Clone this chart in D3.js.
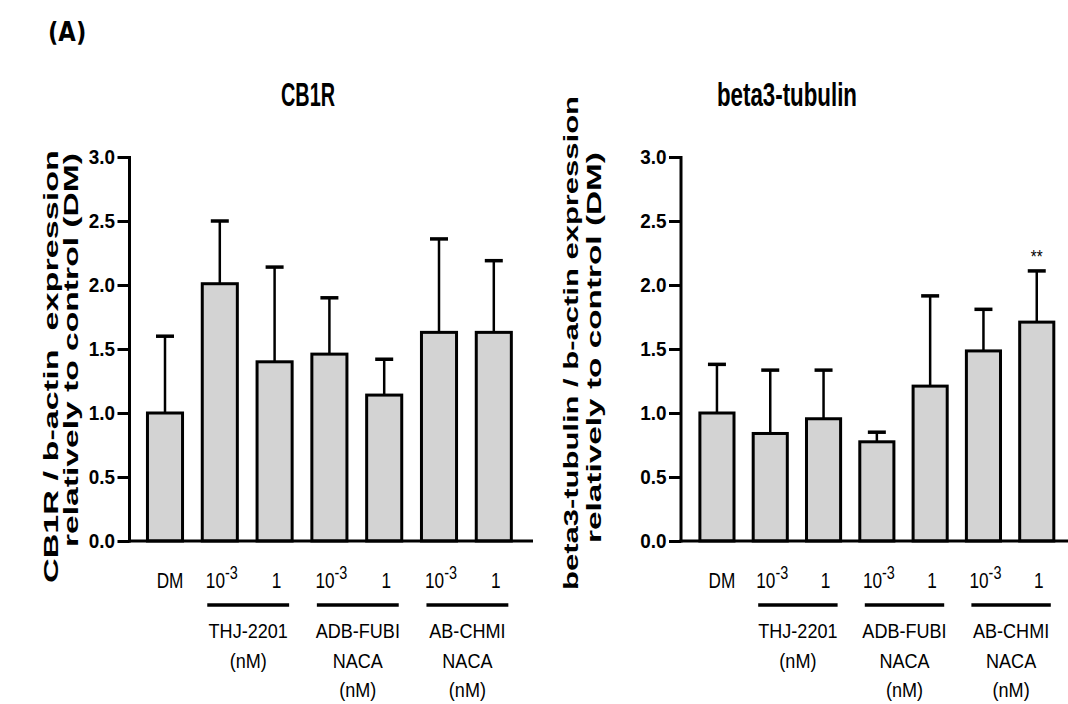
<!DOCTYPE html>
<html>
<head>
<meta charset="utf-8">
<script src="https://cdn.jsdelivr.net/npm/d3@7"></script>
<style>
  body { margin: 0; background: #fff; }
  text { font-family: "Liberation Sans", Arial, sans-serif; }
</style>
</head>
<body>
<div id="chart"></div>
<script>
// bar categories and values
const conditions = ["DM", "10^-3", "1", "10^-3", "1", "10^-3", "1"]
const cb1rMean = [1.00, 2.01, 1.40, 1.46, 1.14, 1.63, 1.63]
const cb1rUpper = [1.60, 2.50, 2.14, 1.90, 1.42, 2.36, 2.19]
const tubMean = [1.00, 0.84, 0.955, 0.775, 1.21, 1.485, 1.71]
const tubUpper = [1.38, 1.335, 1.335, 0.85, 1.915, 1.81, 2.11]
const tubStars = ["", "", "", "", "", "", "**"]
const yTicks = [0, 0.5, 1.0, 1.5, 2.0, 2.5, 3.0]
const drugGroups = [
  { from: 1, to: 2, lines: ["THJ-2201", "(nM)"] },
  { from: 3, to: 4, lines: ["ADB-FUBI", "NACA", "(nM)"] },
  { from: 5, to: 6, lines: ["AB-CHMI", "NACA", "(nM)"] }
]

const width = 1068
const height = 704
const narrow = 0.8   // the figure's fonts are condensed

const svg = d3.select('#chart')
  .append('svg')
  .attr('width', width)
  .attr('height', height)

// text placed at (x, y) and squeezed horizontally
const squeezed = (parent, x, y, k) => parent.append('text')
  .attr('transform', `translate(${x}, ${y}) scale(${k}, 1)`)

squeezed(svg, 48, 41, 0.84)
  .style('font-family', 'DejaVu Sans')
  .attr('font-weight', 'bold')
  .attr('font-size', 27)
  .text('(A)')

const yScale = d3.scaleLinear()
  .domain([0, 3])
  .range([541, 157])

const drawPanel = (p) => {
  const g = svg.append('g')

  const xScale = d3.scaleBand()
    .domain(d3.range(conditions.length))
    .range([p.x0, p.x1])
    .paddingInner(0.36)
    .paddingOuter(0.18)

  const bw = xScale.bandwidth()
  const cx = i => xScale(i) + bw / 2

  // title
  g.append('text')
    .attr('x', p.titleX - p.titleLen / 2)
    .attr('y', 106)
    .attr('font-weight', 'bold')
    .attr('font-size', 33)
    .attr('textLength', p.titleLen)
    .attr('lengthAdjust', 'spacingAndGlyphs')
    .text(p.title)

  // y axis title, two rotated lines
  p.yTitle.forEach((line, k) => {
    g.append('text')
      .attr('transform', `translate(${p.yTitleX[k]}, ${p.yTitleStart[k]}) rotate(-90)`)
      .attr('font-weight', 'bold')
      .attr('font-size', 20)
      .attr('textLength', p.yTitleLen[k])
      .attr('lengthAdjust', 'spacingAndGlyphs')
      .attr('xml:space', 'preserve')
      .text(line)
  })

  // error bars (upper only)
  const err = g.append('g')
  err.selectAll('line.stem')
    .data(p.mean)
    .enter()
    .append('line')
    .attr('x1', (d, i) => cx(i))
    .attr('x2', (d, i) => cx(i))
    .attr('y1', d => yScale(d))
    .attr('y2', (d, i) => yScale(p.upper[i]))
    .attr('stroke', '#000')
    .attr('stroke-width', 2.5)
  err.selectAll('line.cap')
    .data(p.upper)
    .enter()
    .append('line')
    .attr('x1', (d, i) => cx(i) - 9)
    .attr('x2', (d, i) => cx(i) + 9)
    .attr('y1', d => yScale(d))
    .attr('y2', d => yScale(d))
    .attr('stroke', '#000')
    .attr('stroke-width', 3.5)

  // bars
  g.selectAll('rect')
    .data(p.mean)
    .enter()
    .append('rect')
    .attr('x', (d, i) => xScale(i))
    .attr('y', d => yScale(d))
    .attr('width', bw)
    .attr('height', d => yScale(0) - yScale(d))
    .attr('fill', '#d3d3d3')
    .attr('stroke', '#000')
    .attr('stroke-width', 3)

  if (p.stars) {
    p.stars.forEach((s, i) => {
      if (!s) return
      squeezed(g, cx(i), yScale(p.upper[i]) - 8, narrow)
        .attr('text-anchor', 'middle')
        .attr('font-size', 19)
        .text(s)
    })
  }

  // y axis
  const yAxis = d3.axisLeft(yScale)
    .tickValues(yTicks)
    .tickFormat(d3.format('.1f'))
    .tickSize(12)
    .tickSizeOuter(0)
    .tickPadding(4)
  const ya = g.append('g')
    .attr('transform', `translate(${p.axisX}, 0)`)
    .call(yAxis)
  ya.select('.domain').attr('stroke-width', 3).attr('d', `M0,${yScale(0) + 1.5}V${yScale(3) - 1}`)
  ya.selectAll('.tick line').attr('stroke-width', 3)
  ya.selectAll('.tick text')
    .attr('font-weight', 'bold')
    .attr('font-size', 21)
    .attr('fill', '#000')
    .attr('transform', 'scale(0.9, 1)')

  // x axis baseline
  g.append('line')
    .attr('x1', p.axisX - 1.5)
    .attr('x2', p.axisEnd)
    .attr('y1', yScale(0))
    .attr('y2', yScale(0))
    .attr('stroke', '#000')
    .attr('stroke-width', 3)

  // category labels
  conditions.forEach((d, i) => {
    const t = squeezed(g, cx(i) + (i === 0 ? 5 : 2), 588, narrow)
      .attr('text-anchor', 'middle')
      .attr('font-size', 21.5)
    if (d.includes('^')) {
      const [base, exp] = d.split('^')
      t.append('tspan').text(base)
      t.append('tspan').attr('dy', -9).attr('font-size', 18).text(exp)
    } else {
      t.text(d)
    }
  })

  // drug group brackets
  drugGroups.forEach(grp => {
    const a = xScale(grp.from) + 5
    const b = xScale(grp.to) + bw - 3
    g.append('line')
      .attr('x1', a)
      .attr('x2', b)
      .attr('y1', 605)
      .attr('y2', 605)
      .attr('stroke', '#000')
      .attr('stroke-width', 3.5)
    grp.lines.forEach((line, k) => {
      squeezed(g, (a + b) / 2, 638 + k * 29.5, 0.86)
        .attr('text-anchor', 'middle')
        .attr('font-size', 21)
        .text(line)
    })
  })
}

drawPanel({
  title: 'CB1R', titleX: 308, titleLen: 54,
  yTitle: ['CB1R / b-actin  expression', 'relatively to control (DM)'],
  yTitleX: [58, 78], yTitleStart: [583, 547], yTitleLen: [433, 394],
  mean: cb1rMean, upper: cb1rUpper,
  axisX: 129.5, axisEnd: 533,
  x0: 137.6, x1: 521.2
})

drawPanel({
  title: 'beta3-tubulin', titleX: 787, titleLen: 140,
  yTitle: ['beta3-tubulin / b-actin expression', 'relatively to control (DM)'],
  yTitleX: [578, 601], yTitleStart: [590, 543], yTitleLen: [494, 391],
  mean: tubMean, upper: tubUpper, stars: tubStars,
  axisX: 681, axisEnd: 1068,
  x0: 690.3, x1: 1063.4
})
</script>
</body>
</html>
